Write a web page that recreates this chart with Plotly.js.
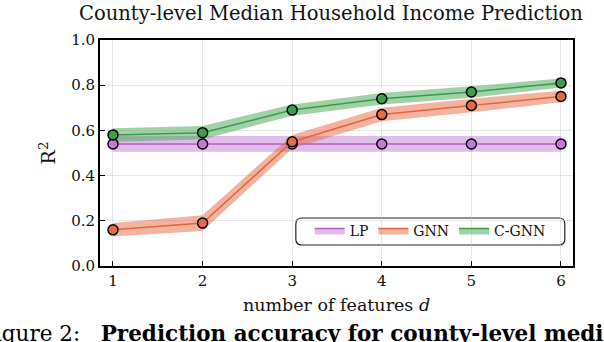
<!DOCTYPE html>
<html>
<head>
<meta charset="utf-8">
<script src="https://cdn.plot.ly/plotly-3.0.1.min.js"></script>
<style>
  html, body { margin: 0; padding: 0; background: #fff; }
  #chart { width: 604px; height: 342px; }
</style>
</head>
<body>
<div id="chart"></div>
<script>
// number of features d
const features = [1, 2, 3, 4, 5, 6];

// mean R^2 for each method
const lpMean = [0.54, 0.54, 0.54, 0.54, 0.54, 0.54];
const gnnMean = [0.16, 0.19, 0.55, 0.67, 0.71, 0.75];
const cgnnMean = [0.58, 0.59, 0.69, 0.74, 0.77, 0.81];

// half width of the shaded band
const lpErr = [0.035, 0.035, 0.035, 0.035, 0.035, 0.035];
const gnnErr = [0.03, 0.035, 0.03, 0.03, 0.03, 0.025];
const cgnnErr = [0.03, 0.03, 0.025, 0.025, 0.025, 0.02];

const yTicks = [0, 0.2, 0.4, 0.6, 0.8, 1.0];

const serif = 'DejaVu Serif, Liberation Serif, serif';

const methods = [
    { name: 'LP', mean: lpMean, err: lpErr, line: '#b160c6', marker: '#c57ad6', fill: 'rgba(196,120,214,0.5)' },
    { name: 'GNN', mean: gnnMean, err: gnnErr, line: '#e0643c', marker: '#e46b45', fill: 'rgba(234,110,70,0.52)' },
    { name: 'C-GNN', mean: cgnnMean, err: cgnnErr, line: '#3b9a48', marker: '#3f9e4c', fill: 'rgba(64,168,80,0.5)' }
];

const traces = [];

// bands
methods.forEach(m => {
    const upper = m.mean.map((v, i) => v + m.err[i]);
    const lower = m.mean.map((v, i) => v - m.err[i]);
    traces.push({
        x: features.concat(features.slice().reverse()),
        y: upper.concat(lower.slice().reverse()),
        type: 'scatter',
        mode: 'lines',
        fill: 'toself',
        fillcolor: m.fill,
        line: { width: 0 },
        hoverinfo: 'skip',
        showlegend: false
    });
});

// mean lines with markers
methods.forEach(m => {
    traces.push({
        x: features,
        y: m.mean,
        type: 'scatter',
        mode: 'lines+markers',
        line: { color: m.line, width: 1.5 },
        marker: { color: m.marker, size: 10, line: { color: '#000', width: 1.5 } },
        showlegend: false
    });
});

// legend entries (swatches only)
methods.forEach(m => {
    traces.push({
        x: [null],
        y: [null],
        type: 'scatter',
        mode: 'lines',
        fill: 'toself',
        fillcolor: m.fill,
        line: { color: m.line, width: 1.5 },
        name: m.name
    });
});

const axisCommon = {
    showline: true,
    linecolor: '#000',
    linewidth: 2,
    mirror: true,
    ticks: 'inside',
    ticklen: 5,
    tickwidth: 1,
    tickcolor: '#000',
    showgrid: true,
    gridcolor: 'rgba(200,200,215,0.45)',
    gridwidth: 1,
    zeroline: false,
    tickfont: { family: serif, size: 15, color: '#111' }
};

const layout = {
    width: 604,
    height: 342,
    margin: { t: 40, r: 31, b: 76, l: 100 },
    paper_bgcolor: '#fff',
    plot_bgcolor: '#fff',
    font: { family: serif, color: '#111' },
    title: {
        text: 'County-level Median Household Income Prediction',
        font: { family: serif, size: 19.5, color: '#111' },
        x: 0.548, xanchor: 'center',
        y: 0.962, yanchor: 'middle'
    },
    xaxis: {
        ...axisCommon,
        range: [0.855, 6.134],
        tickvals: features,
        ticktext: features.map(String),
        title: { text: 'number of features <i>d</i>', font: { family: serif, size: 17.5, color: '#111' }, standoff: 10 }
    },
    yaxis: {
        ...axisCommon,
        range: [0, 1],
        tickvals: yTicks,
        ticktext: yTicks.map(v => v.toFixed(1)),
        title: { text: 'R<sup>2</sup>', font: { family: serif, size: 19, color: '#111' }, standoff: 10 }
    },
    legend: {
        orientation: 'h',
        x: 0.698, xanchor: 'center',
        y: 0.155, yanchor: 'middle',
        bgcolor: 'rgba(255,255,255,0)',
        borderwidth: 0,
        font: { family: serif, size: 14, color: '#111' },
        itemwidth: 30,
        traceorder: 'normal'
    },
    shapes: [{
        type: 'path',
        xref: 'paper', yref: 'paper',
        xsizemode: 'pixel', ysizemode: 'pixel',
        xanchor: 0.414, yanchor: 0.093,
        path: 'M6,0 H263 Q269,0 269,6 V21 Q269,27 263,27 H6 Q0,27 0,21 V6 Q0,0 6,0 Z',
        line: { color: '#222', width: 1.2 },
        fillcolor: 'rgba(255,255,255,0.85)',
        layer: 'below'
    }],
    annotations: [{
        text: 'Figure 2:&nbsp;&nbsp;&nbsp;<b>Prediction accuracy for county-level median household income</b>',
        xref: 'paper', yref: 'paper',
        x: -0.258, xanchor: 'left',
        y: -0.235, yanchor: 'top',
        showarrow: false,
        font: { family: serif, size: 21.5, color: '#000' }
    }],
    showlegend: true
};

Plotly.newPlot('chart', traces, layout, { displayModeBar: false, staticPlot: true });
</script>
</body>
</html>
